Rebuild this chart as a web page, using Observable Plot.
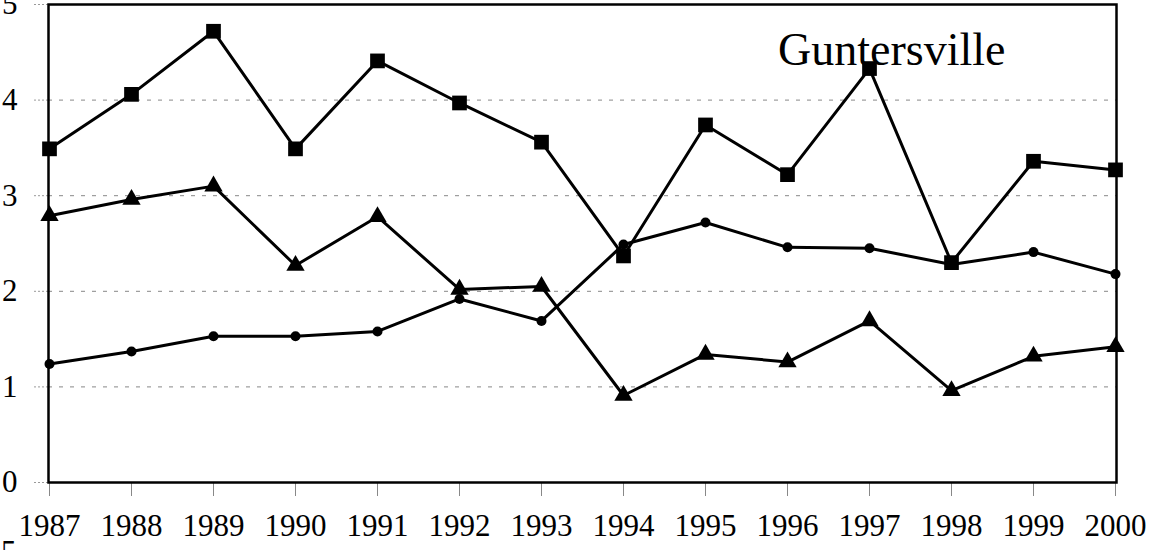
<!DOCTYPE html>
<html>
<head>
<meta charset="utf-8">
<script src="https://cdn.jsdelivr.net/npm/d3@7"></script>
<script src="https://cdn.jsdelivr.net/npm/@observablehq/plot@0.6"></script>
<style>
  html, body { margin: 0; padding: 0; background: #fff; overflow: hidden; width: 1160px; height: 550px; }
  #wrap { position: relative; width: 1160px; height: 550px; }
  #stray { position: absolute; left: 1px; top: 537px; font: 31px/30px "Liberation Serif", "Times New Roman", serif; color: #000; }
</style>
</head>
<body>
<div id="wrap"><div id="chart"></div><span id="stray">5</span></div>
<script>
const years = [1987,1988,1989,1990,1991,1992,1993,1994,1995,1996,1997,1998,1999,2000];
const squares   = [3.49,4.06,4.72,3.49,4.41,3.97,3.56,2.37,3.74,3.22,4.33,2.30,3.36,3.27];
const triangles = [2.79,2.96,3.10,2.27,2.78,2.02,2.05,0.91,1.34,1.26,1.69,0.96,1.32,1.42];
const circles   = [1.24,1.37,1.53,1.53,1.58,1.92,1.69,2.49,2.72,2.46,2.45,2.28,2.41,2.18];
const yTicks = [0,1,2,3,4,5];
const gridTicks = [1,2,3,4];
const title = "Guntersville";

const series = [
  {name: "squares", symbol: "square", r: 8.3, values: squares},
  {name: "triangles", symbol: "triangle", r: 6.8, values: triangles},
  {name: "circles", symbol: "circle", r: 5, values: circles}
];
const rows = series.flatMap(s => years.map((yr, i) => ({year: yr, value: s.values[i], series: s.name, symbol: s.symbol, r: s.r})));

const font = '"Liberation Serif", "Times New Roman", serif';

const chart = Plot.plot({
  width: 1160,
  height: 550,
  marginLeft: 48,
  marginRight: 44,
  marginTop: 4,
  marginBottom: 68,
  style: {fontFamily: font, fontSize: "31px", color: "#000", background: "#fff", overflow: "hidden"},
  x: {type: "point", domain: years, padding: 0},
  y: {domain: [0, 5]},
  marks: [
    Plot.ruleY(gridTicks, {stroke: "#888", strokeWidth: 1, strokeDasharray: "4,7"}),
    Plot.axisY(yTicks, {tickSize: 14, tickPadding: 17, stroke: "#999", strokeDasharray: "2,2", fontSize: 31, fill: "#000", label: null, tickFormat: d => String(d)}),
    Plot.axisX(years, {tickSize: 14, tickPadding: 17, stroke: "#888", fontSize: 31, fill: "#000", label: null, tickFormat: d => String(d)}),
    Plot.frame({stroke: "#000", strokeWidth: 2.5}),
    Plot.lineY(rows, {x: "year", y: "value", z: "series", stroke: "#000", strokeWidth: 3}),
    Plot.dot(rows, {x: "year", y: "value", symbol: "symbol", r: "r", fill: "#000", stroke: "none"}),
    Plot.text([title], {frameAnchor: "top-right", text: d => d, textAnchor: "end", lineAnchor: "top", dx: -111, dy: 28, fontSize: 46, fill: "#000"})
  ],
  r: {type: "identity"},
  symbol: {type: "identity"}
});
document.getElementById("chart").appendChild(chart);
</script>
</body>
</html>
